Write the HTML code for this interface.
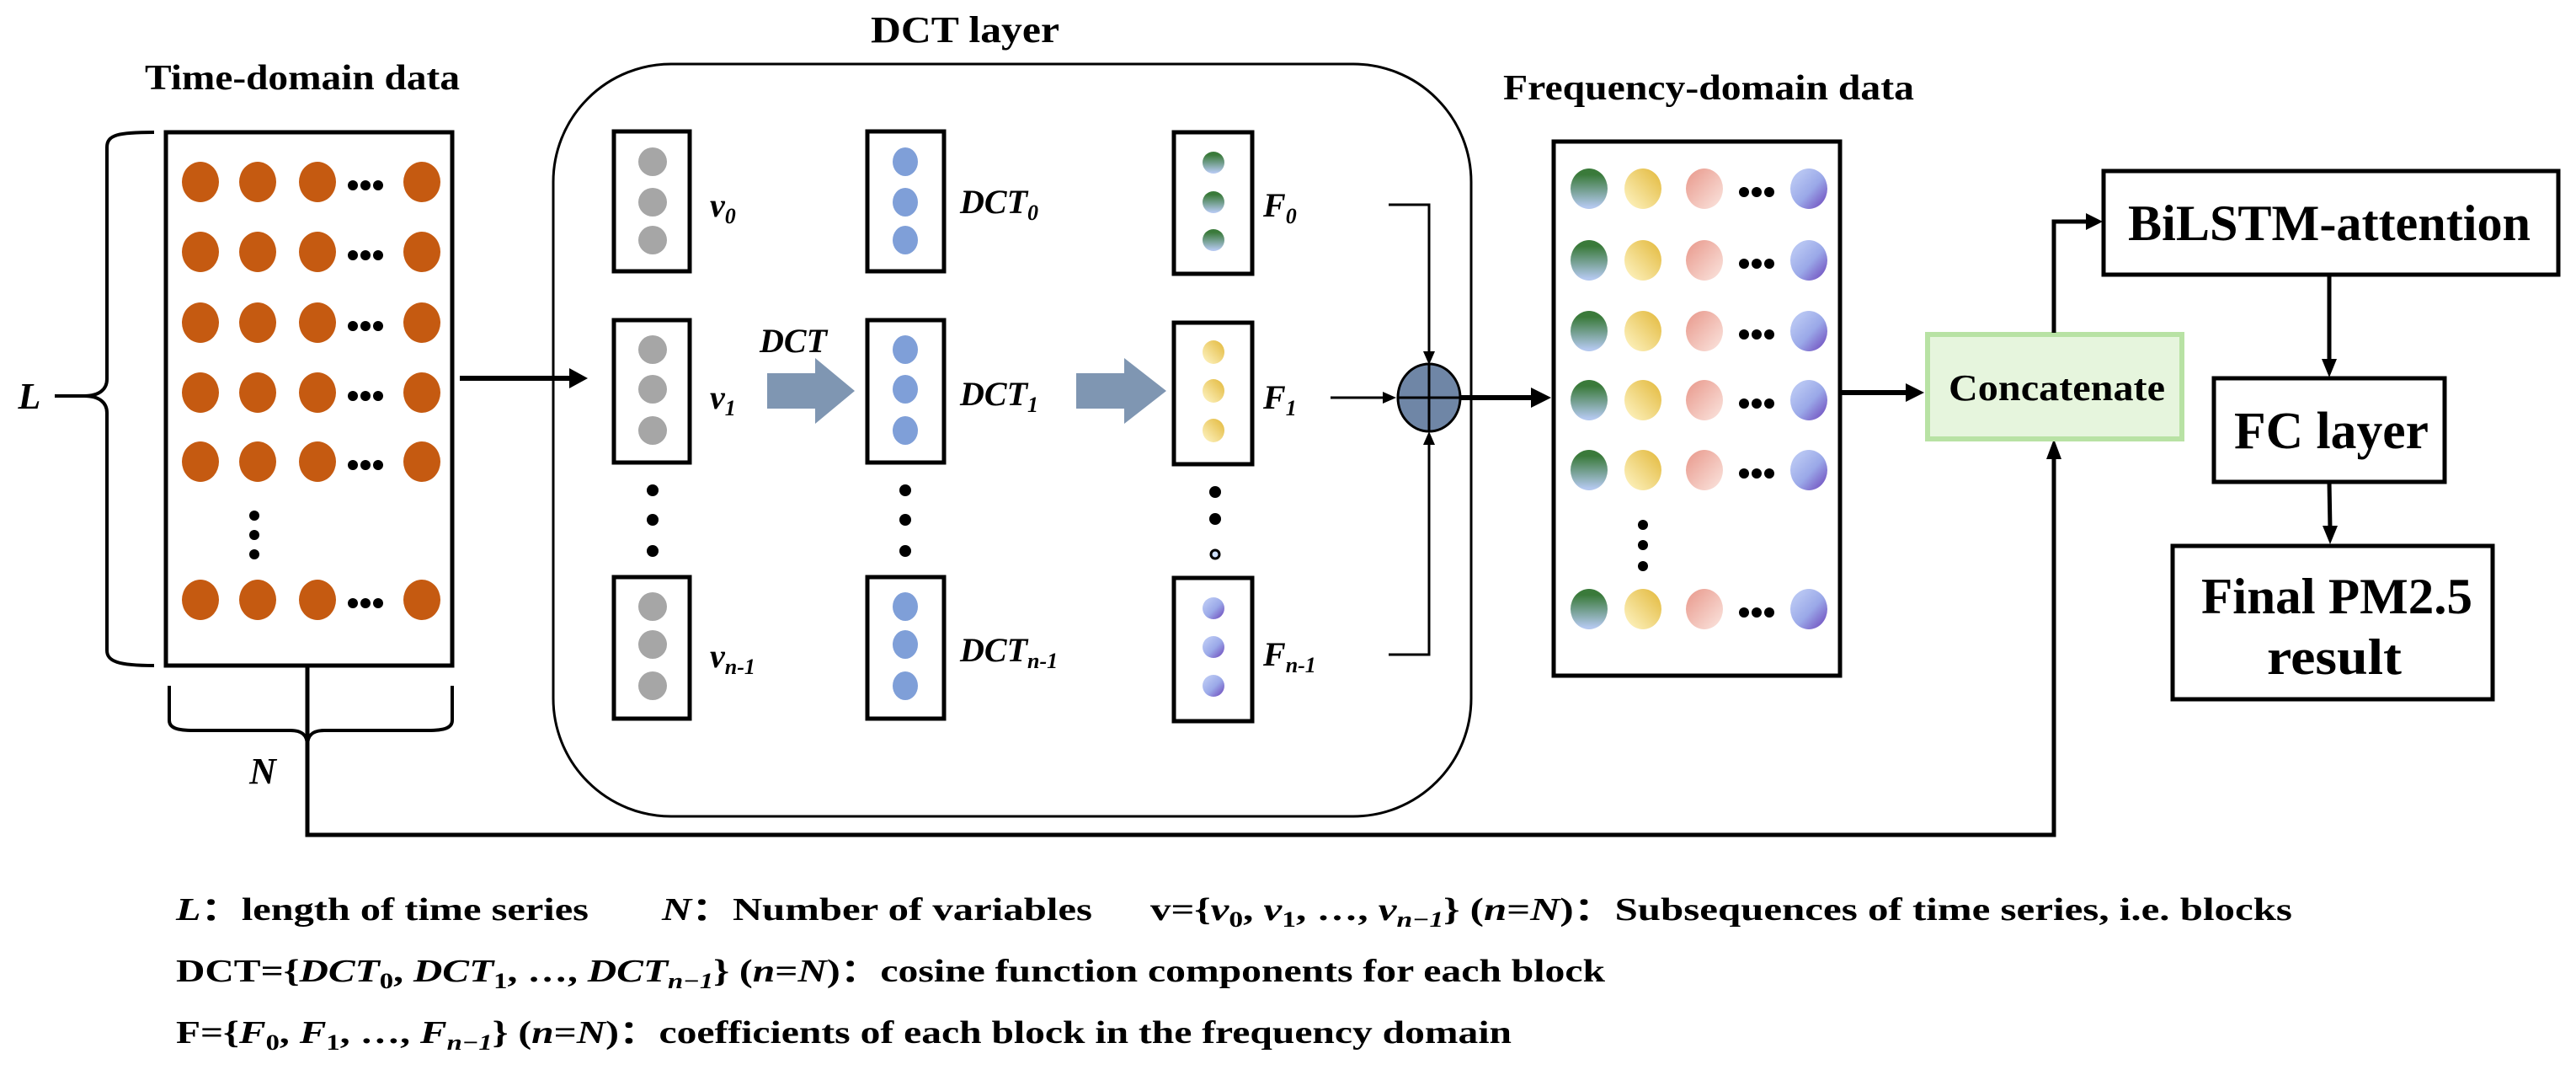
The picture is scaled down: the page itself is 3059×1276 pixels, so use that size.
<!DOCTYPE html>
<html><head><meta charset="utf-8"><style>
html,body{margin:0;padding:0;background:#fff}
svg{display:block}
text{font-family:"Liberation Serif",serif}
</style></head><body>
<svg width="3059" height="1276" viewBox="0 0 3059 1276" xmlns="http://www.w3.org/2000/svg">
<defs>
<linearGradient id="gG" x1="0" y1="0" x2="0" y2="1"><stop offset="0.15" stop-color="#3a7a3a"/><stop offset="0.95" stop-color="#b4c8ee"/></linearGradient>
<linearGradient id="gY" x1="1" y1="0" x2="0" y2="1"><stop offset="0" stop-color="#e2b83a"/><stop offset="1" stop-color="#fff6c8"/></linearGradient>
<linearGradient id="gP" x1="0" y1="0" x2="1" y2="1"><stop offset="0" stop-color="#e8978a"/><stop offset="1" stop-color="#fbe6e0"/></linearGradient>
<linearGradient id="gV" x1="0" y1="0" x2="1" y2="1"><stop offset="0.2" stop-color="#b6c4f2"/><stop offset="0.55" stop-color="#9aa8e8"/><stop offset="1" stop-color="#6a40b8"/></linearGradient>
</defs>

<!-- titles -->
<text x="172" y="106" font-size="42" font-weight="bold" textLength="374" lengthAdjust="spacingAndGlyphs">Time-domain data</text>
<text x="1034" y="50" font-size="44" font-weight="bold" textLength="224" lengthAdjust="spacingAndGlyphs">DCT layer</text>
<text x="1785" y="118" font-size="42" font-weight="bold" textLength="488" lengthAdjust="spacingAndGlyphs">Frequency-domain data</text>

<!-- time box -->
<rect x="197" y="157" width="340" height="633" fill="none" stroke="#000" stroke-width="5"/>
<path d="M183,157 C140,157 127,160 127,175 L127,450 C127,462 118,470 100,470 C118,470 127,478 127,490 L127,772 C127,785 140,790 183,790" fill="none" stroke="#000" stroke-width="4"/>
<line x1="65" y1="470" x2="100" y2="470" stroke="#000" stroke-width="4"/>
<text x="35" y="485" font-size="44" font-style="italic" font-weight="bold" text-anchor="middle">L</text>
<g fill="#c55a11">
<g id="orow"><ellipse cx="238" cy="216" rx="22" ry="24"/><ellipse cx="306" cy="216" rx="22" ry="24"/><ellipse cx="377" cy="216" rx="22" ry="24"/><ellipse cx="501" cy="216" rx="22" ry="24"/></g>
<use href="#orow" y="83"/><use href="#orow" y="167"/><use href="#orow" y="250"/><use href="#orow" y="332"/><use href="#orow" y="496"/>
</g>
<g fill="#000">
<g id="bdots"><circle cx="419" cy="220" r="6"/><circle cx="434" cy="220" r="6"/><circle cx="449" cy="220" r="6"/></g>
<use href="#bdots" y="83"/><use href="#bdots" y="167"/><use href="#bdots" y="250"/><use href="#bdots" y="332"/><use href="#bdots" y="496"/>
<circle cx="302" cy="612" r="6"/><circle cx="302" cy="635" r="6"/><circle cx="302" cy="658" r="6"/>
</g>
<!-- bottom brace -->
<path d="M201,814 L201,855 C201,864 210,867 230,867 L345,867 C358,867 365,872 365,885 M537,814 L537,855 C537,864 528,867 508,867 L385,867 C372,867 365,872 365,885" fill="none" stroke="#000" stroke-width="4"/>
<text x="312" y="930" font-size="44" font-style="italic" font-weight="bold" text-anchor="middle">N</text>
<path d="M365,790 L365,991 L2439,991 L2439,540" fill="none" stroke="#000" stroke-width="5"/>
<path d="M2439,521 L2430,545 L2448,545 z" fill="#000"/>

<!-- time -> DCT arrow -->
<line x1="546" y1="449" x2="680" y2="449" stroke="#000" stroke-width="6"/>
<path d="M698,449 L676,437 L676,461 z" fill="#000"/>

<!-- DCT layer -->
<rect x="657" y="76" width="1090" height="893" rx="140" ry="140" fill="none" stroke="#000" stroke-width="3"/>

<g fill="none" stroke="#000" stroke-width="5">
<rect x="729" y="156" width="90" height="166"/><rect x="729" y="380" width="90" height="169"/><rect x="729" y="685" width="90" height="168"/>
<rect x="1030" y="156" width="91" height="166"/><rect x="1030" y="380" width="91" height="169"/><rect x="1030" y="685" width="91" height="168"/>
<rect x="1394" y="157" width="93" height="168"/><rect x="1394" y="383" width="93" height="168"/><rect x="1394" y="686" width="93" height="170"/>
</g>
<g fill="#a6a6a6">
<ellipse cx="775" cy="192" rx="17" ry="17"/><ellipse cx="775" cy="240" rx="17" ry="17"/><ellipse cx="775" cy="285" rx="17" ry="17"/>
<ellipse cx="775" cy="415" rx="17" ry="17"/><ellipse cx="775" cy="462" rx="17" ry="17"/><ellipse cx="775" cy="511" rx="17" ry="17"/>
<ellipse cx="775" cy="720" rx="17" ry="17"/><ellipse cx="775" cy="765" rx="17" ry="17"/><ellipse cx="775" cy="814" rx="17" ry="17"/>
</g>
<g fill="#7f9fd8">
<ellipse cx="1075" cy="192" rx="15" ry="17"/><ellipse cx="1075" cy="240" rx="15" ry="17"/><ellipse cx="1075" cy="285" rx="15" ry="17"/>
<ellipse cx="1075" cy="415" rx="15" ry="17"/><ellipse cx="1075" cy="462" rx="15" ry="17"/><ellipse cx="1075" cy="511" rx="15" ry="17"/>
<ellipse cx="1075" cy="720" rx="15" ry="17"/><ellipse cx="1075" cy="765" rx="15" ry="17"/><ellipse cx="1075" cy="814" rx="15" ry="17"/>
</g>
<g>
<ellipse cx="1441" cy="193" rx="13" ry="13" fill="url(#gG)"/><ellipse cx="1441" cy="240" rx="13" ry="13" fill="url(#gG)"/><ellipse cx="1441" cy="285" rx="13" ry="13" fill="url(#gG)"/>
<ellipse cx="1441" cy="418" rx="13" ry="14" fill="url(#gY)"/><ellipse cx="1441" cy="464" rx="13" ry="14" fill="url(#gY)"/><ellipse cx="1441" cy="511" rx="13" ry="14" fill="url(#gY)"/>
<ellipse cx="1441" cy="722" rx="13" ry="13" fill="url(#gV)"/><ellipse cx="1441" cy="768" rx="13" ry="13" fill="url(#gV)"/><ellipse cx="1441" cy="814" rx="13" ry="13" fill="url(#gV)"/>
</g>
<g fill="#000">
<circle cx="775" cy="582" r="7"/><circle cx="775" cy="617" r="7"/><circle cx="775" cy="654" r="7"/>
<circle cx="1075" cy="582" r="7"/><circle cx="1075" cy="617" r="7"/><circle cx="1075" cy="654" r="7"/>
<circle cx="1443" cy="584" r="7"/><circle cx="1443" cy="616" r="7"/>
</g>
<circle cx="1443" cy="658" r="5" fill="#cfe0ff" stroke="#000" stroke-width="3"/>

<g font-size="40" font-style="italic" font-weight="bold">
<text x="843" y="257">v<tspan font-size="26" dy="8">0</tspan></text>
<text x="843" y="485">v<tspan font-size="26" dy="8">1</tspan></text>
<text x="843" y="792">v<tspan font-size="26" dy="8">n-1</tspan></text>
<text x="1140" y="253">DCT<tspan font-size="26" dy="8">0</tspan></text>
<text x="1140" y="481">DCT<tspan font-size="26" dy="8">1</tspan></text>
<text x="1140" y="785">DCT<tspan font-size="26" dy="8">n-1</tspan></text>
<text x="1500" y="257">F<tspan font-size="26" dy="8">0</tspan></text>
<text x="1500" y="485">F<tspan font-size="26" dy="8">1</tspan></text>
<text x="1500" y="790">F<tspan font-size="26" dy="8">n-1</tspan></text>
<text x="942" y="418" text-anchor="middle">DCT</text>
</g>
<!-- block arrows -->
<path d="M911,443 L968,443 L968,425 L1015,464 L968,503 L968,485 L911,485 z" fill="#7f96b2"/>
<path d="M1278,443 L1335,443 L1335,425 L1385,464 L1335,503 L1335,485 L1278,485 z" fill="#7f96b2"/>

<!-- connectors to sum -->
<path d="M1649,243 L1697,243 L1697,420" fill="none" stroke="#000" stroke-width="3"/>
<path d="M1697,433 L1690,417 L1704,417 z" fill="#000"/>
<line x1="1580" y1="472" x2="1645" y2="472" stroke="#000" stroke-width="3"/>
<path d="M1658,472 L1642,465 L1642,479 z" fill="#000"/>
<path d="M1649,777 L1697,777 L1697,525" fill="none" stroke="#000" stroke-width="3"/>
<path d="M1697,512 L1690,528 L1704,528 z" fill="#000"/>
<ellipse cx="1697" cy="472" rx="37" ry="40" fill="#6f86a6" stroke="#000" stroke-width="3"/>
<line x1="1660" y1="472" x2="1734" y2="472" stroke="#000" stroke-width="3"/>
<line x1="1697" y1="432" x2="1697" y2="512" stroke="#000" stroke-width="3"/>
<line x1="1734" y1="472" x2="1822" y2="472" stroke="#000" stroke-width="6"/>
<path d="M1842,472 L1818,460 L1818,484 z" fill="#000"/>

<!-- frequency box -->
<rect x="1845" y="168" width="340" height="634" fill="none" stroke="#000" stroke-width="5"/>
<g id="frow">
<ellipse cx="1887" cy="224" rx="22" ry="24" fill="url(#gG)"/>
<ellipse cx="1951" cy="224" rx="22" ry="24" fill="url(#gY)"/>
<ellipse cx="2024" cy="224" rx="22" ry="24" fill="url(#gP)"/>
<circle cx="2071" cy="228" r="6"/><circle cx="2086" cy="228" r="6"/><circle cx="2101" cy="228" r="6"/>
<ellipse cx="2148" cy="224" rx="22" ry="24" fill="url(#gV)"/>
</g>
<use href="#frow" y="85"/><use href="#frow" y="169"/><use href="#frow" y="251"/><use href="#frow" y="334"/><use href="#frow" y="499"/>
<circle cx="1951" cy="623" r="6"/><circle cx="1951" cy="647" r="6"/><circle cx="1951" cy="672" r="6"/>

<line x1="2187" y1="466" x2="2265" y2="466" stroke="#000" stroke-width="6"/>
<path d="M2285,466 L2263,455 L2263,477 z" fill="#000"/>

<!-- concatenate -->
<rect x="2289" y="397" width="302" height="124" fill="#e6f5dd" stroke="#b8e2a4" stroke-width="6"/>
<text x="2314" y="475" font-size="44" font-weight="bold" textLength="257" lengthAdjust="spacingAndGlyphs">Concatenate</text>
<path d="M2439,395 L2439,263 L2480,263" fill="none" stroke="#000" stroke-width="5"/>
<path d="M2497,263 L2477,253 L2477,273 z" fill="#000"/>

<!-- right boxes -->
<rect x="2498" y="203" width="540" height="123" fill="none" stroke="#000" stroke-width="5"/>
<text x="2527" y="285" font-size="60" font-weight="bold" textLength="478" lengthAdjust="spacingAndGlyphs">BiLSTM-attention</text>
<line x1="2766" y1="326" x2="2766" y2="430" stroke="#000" stroke-width="5"/>
<path d="M2766,448 L2757,426 L2775,426 z" fill="#000"/>
<rect x="2629" y="449" width="274" height="123" fill="none" stroke="#000" stroke-width="5"/>
<text x="2653" y="532" font-size="62" font-weight="bold" textLength="231" lengthAdjust="spacingAndGlyphs">FC layer</text>
<line x1="2766" y1="572" x2="2767" y2="628" stroke="#000" stroke-width="5"/>
<path d="M2767,646 L2758,624 L2776,624 z" fill="#000"/>
<rect x="2580" y="648" width="380" height="182" fill="none" stroke="#000" stroke-width="5"/>
<text x="2614" y="728" font-size="60" font-weight="bold" textLength="322" lengthAdjust="spacingAndGlyphs">Final PM2.5</text>
<text x="2692" y="800" font-size="60" font-weight="bold" textLength="160" lengthAdjust="spacingAndGlyphs">result</text>

<!-- legend -->
<g font-size="38" font-weight="bold">
<text x="209" y="1092" textLength="490" lengthAdjust="spacingAndGlyphs"><tspan font-style="italic">L</tspan>：length of time series</text>
<text x="786" y="1092" textLength="511" lengthAdjust="spacingAndGlyphs"><tspan font-style="italic">N</tspan>：Number of variables</text>
<text x="1366" y="1092" textLength="1356" lengthAdjust="spacingAndGlyphs">v={<tspan font-style="italic">v</tspan><tspan font-size="26" dy="8">0</tspan><tspan dy="-8">, </tspan><tspan font-style="italic">v</tspan><tspan font-size="26" dy="8">1</tspan><tspan dy="-8">, …, </tspan><tspan font-style="italic">v</tspan><tspan font-size="26" dy="8" font-style="italic">n−1</tspan><tspan dy="-8">} (</tspan><tspan font-style="italic">n</tspan>=<tspan font-style="italic">N</tspan>)：Subsequences of time series, i.e. blocks</text>
<text x="209" y="1165" textLength="1697" lengthAdjust="spacingAndGlyphs">DCT={<tspan font-style="italic">DCT</tspan><tspan font-size="26" dy="8">0</tspan><tspan dy="-8">, </tspan><tspan font-style="italic">DCT</tspan><tspan font-size="26" dy="8">1</tspan><tspan dy="-8">, …, </tspan><tspan font-style="italic">DCT</tspan><tspan font-size="26" dy="8" font-style="italic">n−1</tspan><tspan dy="-8">} (</tspan><tspan font-style="italic">n</tspan>=<tspan font-style="italic">N</tspan>)：cosine function components for each block</text>
<text x="209" y="1238" textLength="1586" lengthAdjust="spacingAndGlyphs">F={<tspan font-style="italic">F</tspan><tspan font-size="26" dy="8">0</tspan><tspan dy="-8">, </tspan><tspan font-style="italic">F</tspan><tspan font-size="26" dy="8">1</tspan><tspan dy="-8">, …, </tspan><tspan font-style="italic">F</tspan><tspan font-size="26" dy="8" font-style="italic">n−1</tspan><tspan dy="-8">} (</tspan><tspan font-style="italic">n</tspan>=<tspan font-style="italic">N</tspan>)：coefficients of each block in the frequency domain</text>
</g>
</svg>
</body></html>
